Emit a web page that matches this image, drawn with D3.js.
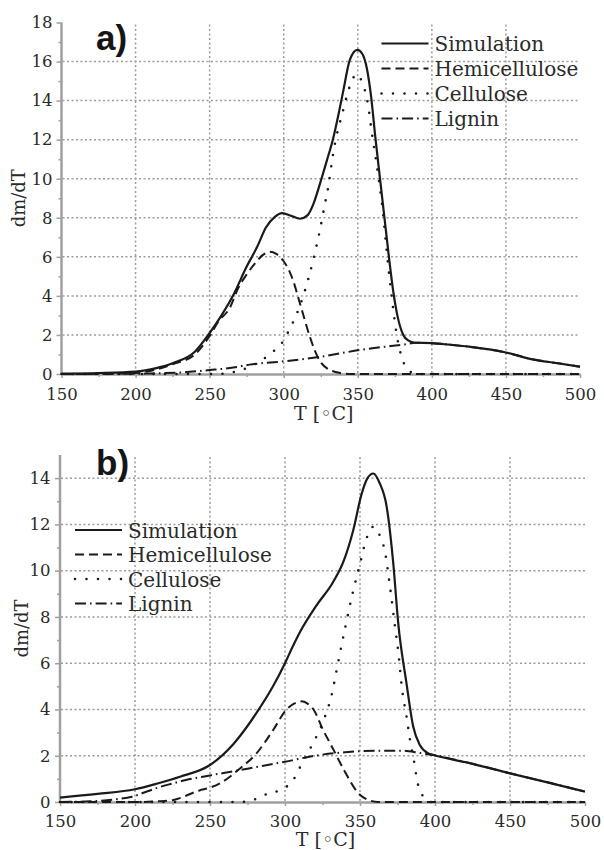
<!DOCTYPE html>
<html>
<head>
<meta charset="utf-8">
<script src="https://cdn.jsdelivr.net/npm/d3@7"></script>
<style>
  html, body { margin: 0; padding: 0; background: #fff; }
  svg { display: block; }
</style>
</head>
<body>
<svg id="chart" width="604" height="850"></svg>
<script>
// ---- shared axis ticks ----
const tempTicks = [150, 200, 250, 300, 350, 400, 450, 500];
const tempMinorTicks = [175, 225, 275, 325, 375, 425, 475];
const yTicksA = [0, 2, 4, 6, 8, 10, 12, 14, 16, 18];
const yTicksB = [0, 2, 4, 6, 8, 10, 12, 14];
const seriesNames = ["Simulation", "Hemicellulose", "Cellulose", "Lignin"];

// ---- panel a) : temperature [°C] and dm/dT of each curve ----
const simA_T = [150, 175, 200, 214, 225, 240, 250, 258, 266, 275, 282, 288, 294, 299, 305, 311, 316, 320, 324.5, 329, 333.5, 337, 340.2, 344.7, 349.7, 353, 356, 359, 361.6, 365, 368, 371, 374, 377, 380.7, 384, 388.6, 400, 412, 425, 450, 468, 485, 500];
const simA   = [0.02, 0.05, 0.12, 0.3, 0.55, 1.14, 2.1, 3.0, 4.05, 5.5, 6.5, 7.5, 8.05, 8.24, 8.1, 7.95, 8.12, 8.7, 9.75, 10.9, 12.1, 13.3, 14.5, 16.1, 16.6, 16.4, 15.7, 14.2, 12.3, 10.0, 8.0, 6.0, 4.2, 2.9, 2.0, 1.72, 1.6, 1.58, 1.5, 1.4, 1.1, 0.75, 0.55, 0.37];

const hemiA_T = [150, 190, 200, 215, 225, 240, 250, 256, 263.7, 269.3, 275, 281, 286, 290.7, 295, 299.7, 303, 306.5, 311, 317.7, 321, 325, 330, 335, 340, 345, 500];
const hemiA   = [0, 0.02, 0.05, 0.25, 0.5, 1.0, 1.95, 2.7, 3.4, 4.4, 5.1, 5.7, 6.1, 6.26, 6.15, 5.8, 5.4, 4.75, 3.6, 1.9, 1.2, 0.6, 0.25, 0.1, 0.03, 0, 0];

const cellA_T = [150, 255, 265, 275, 285, 292, 298.6, 304, 307.5, 313.2, 320.4, 324.5, 327.9, 330.1, 332.4, 334.6, 336.9, 339.1, 341.4, 343.6, 346.5, 349.2, 352.6, 357.1, 359.4, 361.6, 363.9, 366.8, 369.5, 372.9, 376.3, 380.7, 384, 387.5, 390, 500];
const cellA   = [0, 0, 0.08, 0.3, 0.7, 1.1, 1.57, 2.3, 2.85, 4.0, 6.0, 7.4, 8.75, 9.6, 10.8, 11.8, 12.6, 13.2, 13.9, 14.5, 15.1, 15.35, 15.0, 13.7, 12.4, 11.3, 10.1, 8.4, 6.3, 3.95, 2.0, 0.63, 0.2, 0.05, 0, 0];

const ligA_T = [150, 200, 210, 234.5, 250, 266, 277, 300, 324.5, 351.5, 374, 383, 388.6, 400, 412, 425, 450, 468, 485, 500];
const ligA   = [0, 0.01, 0.03, 0.1, 0.2, 0.33, 0.48, 0.65, 0.88, 1.23, 1.45, 1.53, 1.6, 1.58, 1.5, 1.4, 1.1, 0.75, 0.55, 0.37];

// ---- panel b) ----
const simB_T = [150, 175, 200, 215, 230, 250, 265.5, 281, 292, 300, 305, 310, 321, 332, 339, 345.5, 351, 355, 358.9, 363, 367.8, 372.2, 375.5, 381, 385.5, 390, 395.5, 399, 425, 450, 475, 500];
const simB   = [0.19, 0.35, 0.55, 0.8, 1.09, 1.6, 2.5, 3.85, 5.0, 6.0, 6.7, 7.35, 8.5, 9.5, 10.4, 11.75, 13.3, 14.0, 14.2, 13.8, 12.76, 10.3, 7.72, 5.13, 3.25, 2.45, 2.1, 2.03, 1.65, 1.24, 0.85, 0.45];

const hemiB_T = [150, 200, 215, 225, 243, 250, 257, 270, 281, 292, 301, 306, 311, 315, 319, 325.5, 332, 340, 349, 356, 362, 500];
const hemiB   = [0, 0, 0.03, 0.08, 0.5, 0.62, 0.82, 1.45, 2.1, 3.1, 4.0, 4.25, 4.35, 4.25, 4.0, 3.1, 2.3, 1.3, 0.37, 0.08, 0, 0];

const cellB_T = [150, 270, 275, 289, 298, 305.5, 310, 315, 320, 326.7, 331, 335, 340, 345, 350, 354.4, 358.9, 363.3, 366.7, 370, 373.3, 375.5, 378, 381, 383.3, 386.7, 388, 391, 395, 398, 500];
const cellB   = [0, 0, 0.02, 0.37, 0.55, 0.95, 1.5, 2.1, 2.7, 3.7, 4.6, 5.9, 7.5, 9.0, 10.3, 11.4, 11.9, 11.5, 10.8, 9.3, 7.6, 6.5, 4.9, 3.7, 2.7, 1.5, 0.95, 0.37, 0.05, 0, 0];

const ligB_T = [150, 170, 185, 198, 210, 217, 225, 234, 250, 265, 280, 300, 320, 340, 360, 377, 390, 399, 425, 450, 475, 500];
const ligB   = [0, 0.03, 0.1, 0.23, 0.5, 0.66, 0.8, 0.95, 1.15, 1.32, 1.5, 1.74, 2.0, 2.15, 2.22, 2.22, 2.12, 2.03, 1.65, 1.24, 0.85, 0.45];

const pairs = (ts, vs) => ts.map((t, i) => [t, vs[i]]);

// stroke styles for the four curves
const styles = [
  { width: 2.2, dash: null,            cap: "butt"  },
  { width: 2.0, dash: "9,5",           cap: "butt"  },
  { width: 2.6, dash: "0,11.5",        cap: "round" },
  { width: 2.0, dash: "11,4,1.6,4",    cap: "butt"  }
];

const svg = d3.select("#chart");
const serif = "'DejaVu Serif', 'Liberation Serif', serif";
const textColor = "#2a2a2a";
const axisColor = "#a0a0a0";
const gridColor = "#9c9c9c";

function drawPanel(p) {
  const x = d3.scaleLinear().domain([150, 500]).range([p.left, p.right]);
  const y = d3.scaleLinear().domain([0, p.yMax]).range([p.bottom, p.top]);
  const g = svg.append("g");

  // dotted grid
  const grid = g.append("g")
    .attr("stroke", gridColor)
    .attr("stroke-width", 1.5)
    .attr("stroke-dasharray", "2,2.5");
  p.yTicks.filter(v => v > 0 && v < p.yMax).forEach(v => {
    grid.append("line")
      .attr("x1", p.left + 1).attr("x2", p.right)
      .attr("y1", y(v)).attr("y2", y(v));
  });
  tempTicks.filter(v => v > 150 && v < 500).forEach(v => {
    grid.append("line")
      .attr("x1", x(v)).attr("x2", x(v))
      .attr("y1", p.bottom - 1).attr("y2", y(p.yAxisTop));
  });

  // minor ticks
  const minorY = d3.range(1, p.yMax, 2);
  g.append("g").attr("transform", `translate(${p.left},0)`)
    .call(d3.axisLeft(y).tickValues(minorY).tickSize(3).tickSizeOuter(0).tickFormat(""))
    .call(a => a.select(".domain").remove())
    .call(a => a.selectAll("line").attr("stroke", axisColor).attr("stroke-width", 1.5));
  g.append("g").attr("transform", `translate(0,${p.bottom})`)
    .call(d3.axisBottom(x).tickValues(tempMinorTicks).tickSize(3).tickSizeOuter(0).tickFormat(""))
    .call(a => a.select(".domain").remove())
    .call(a => a.selectAll("line").attr("stroke", axisColor).attr("stroke-width", 1.5));

  // main axes
  const yAxis = g.append("g").attr("transform", `translate(${p.left},0)`)
    .call(d3.axisLeft(y).tickValues(p.yTicks).tickSize(5).tickSizeOuter(0).tickPadding(p.yPad));
  const xAxis = g.append("g").attr("transform", `translate(0,${p.bottom})`)
    .call(d3.axisBottom(x).tickValues(tempTicks).tickSize(4).tickSizeOuter(0).tickPadding(p.xPad));
  [yAxis, xAxis].forEach(a => {
    a.select(".domain").attr("stroke", axisColor).attr("stroke-width", 2.5);
    a.selectAll(".tick line").attr("stroke", axisColor).attr("stroke-width", 1.5);
    a.selectAll(".tick text").attr("font-family", serif).attr("font-size", 16.5)
      .attr("fill", textColor);
  });
  yAxis.select(".domain").attr("d", `M0,${p.bottom}V${y(p.yAxisTop)}`);

  // curves: components first, simulation on top
  const line = d3.line().x(d => x(d[0])).y(d => y(d[1])).curve(d3.curveMonotoneX);
  [3, 2, 1, 0].forEach(i => {
    const s = styles[i];
    g.append("path")
      .datum(p.series[i])
      .attr("d", line)
      .attr("fill", "none")
      .attr("stroke", "#1a1a1a")
      .attr("stroke-width", s.width)
      .attr("stroke-linecap", s.cap)
      .attr("stroke-linejoin", "round")
      .attr("stroke-dasharray", s.dash);
  });

  // axis titles
  g.append("text")
    .attr("transform", `translate(${p.yTitleX},${(p.bottom + y(p.yAxisTop)) / 2}) rotate(-90)`)
    .attr("text-anchor", "middle")
    .attr("font-family", serif).attr("font-size", 18).attr("fill", textColor)
    .text("dm/dT");
  g.append("text")
    .attr("x", (p.left + p.right) / 2 + 3).attr("y", p.xTitleY)
    .attr("text-anchor", "middle")
    .attr("font-family", serif).attr("font-size", 19).attr("fill", textColor)
    .text("T [\u25E6C]");

  // panel label
  g.append("text")
    .attr("x", p.labelX).attr("y", p.labelY)
    .attr("font-family", "'Liberation Sans', Arial, sans-serif")
    .attr("font-weight", "bold").attr("font-size", 35).attr("fill", "#151515")
    .text(p.label);

  // legend
  const lg = g.append("g");
  seriesNames.forEach((name, i) => {
    const cy = p.legendY + i * p.legendStep;
    const s = styles[i];
    lg.append("line")
      .attr("x1", p.legendX).attr("x2", p.legendX + 47)
      .attr("y1", cy).attr("y2", cy)
      .attr("stroke", "#1a1a1a").attr("stroke-width", s.width)
      .attr("stroke-linecap", s.cap)
      .attr("stroke-dasharray", s.dash);
    lg.append("text")
      .attr("x", p.legendX + 53).attr("y", cy + 7.5)
      .attr("font-family", serif).attr("font-size", 20).attr("fill", textColor)
      .text(name);
  });
}

drawPanel({
  left: 61.5, right: 580, top: 22.5, bottom: 374, yMax: 18, yAxisTop: 18,
  yTicks: yTicksA, yPad: 4, xPad: 10,
  yTitleX: 25, xTitleY: 420,
  label: "a)", labelX: 96, labelY: 50,
  legendX: 381.5, legendY: 43.5, legendStep: 25,
  series: [pairs(simA_T, simA), pairs(hemiA_T, hemiA), pairs(cellA_T, cellA), pairs(ligA_T, ligA)]
});

drawPanel({
  left: 60, right: 585, top: 455, bottom: 802, yMax: 15, yAxisTop: 15,
  yTicks: yTicksB, yPad: 4.5, xPad: 9.5,
  yTitleX: 28, xTitleY: 846,
  label: "b)", labelX: 96, labelY: 475,
  legendX: 75, legendY: 530, legendStep: 24.5,
  series: [pairs(simB_T, simB), pairs(hemiB_T, hemiB), pairs(cellB_T, cellB), pairs(ligB_T, ligB)]
});
</script>
</body>
</html>
